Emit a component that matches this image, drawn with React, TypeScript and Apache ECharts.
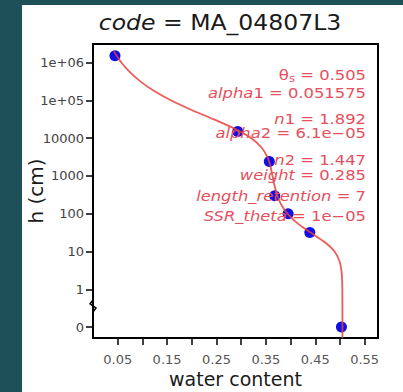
import React, { useEffect, useRef } from "react";
import * as echarts from "echarts";

// ---- data ----
const plotCode = "MA_04807L3";
// observed points: water content vs suction h (cm)
const pointTheta = [0.0445, 0.293, 0.357, 0.368, 0.395, 0.439, 0.503];
const pointH = [1500000, 15000, 2400, 300, 100, 32, 0];
// fitted curve: log10(h) and water content
const curveLogH = [6.3, 6.2, 6.0, 5.75, 5.5, 5.25, 5.0, 4.75, 4.5, 4.25, 4.0, 3.75, 3.5, 3.25, 3.0, 2.75, 2.5, 2.25, 2.0, 1.75, 1.5, 1.25, 1.0, 0.75, 0.5, 0.25, 0.0, -1.0, -1.288];
const curveTheta = [0.0422, 0.0468, 0.0574, 0.0742, 0.0958, 0.1232, 0.1575, 0.1985, 0.2435, 0.2864, 0.3199, 0.3411, 0.3529, 0.3593, 0.3634, 0.3674, 0.3726, 0.3807, 0.3936, 0.4135, 0.4406, 0.4688, 0.4889, 0.4989, 0.5029, 0.5043, 0.5048, 0.505, 0.505];
// axes
const xTickValues = [0.05, 0.1, 0.15, 0.2, 0.25, 0.3, 0.35, 0.4, 0.45, 0.5, 0.55];
const xLabelValues = [0.05, 0.15, 0.25, 0.35, 0.45, 0.55];
const yTickValues = [-1, 0, 1, 2, 3, 4, 5, 6];
const yTickLabels = ["0", "1", "10", "100", "1000", "10000", "1e+05", "1e+06"];
const yBreakAt = -0.44;
// fitted parameters (annotation)
const paramNames = ["θs", "alpha1", "n1", "alpha2", "n2", "weight", "length_retention", "SSR_theta"];
const paramValues = ["0.505", "0.051575", "1.892", "6.1e−05", "1.447", "0.285", "7", "1e−05"];

const FONT = "DejaVu Sans";
const RED_TEXT = "#e5505c";

function paramRich(name: string, value: string): string {
  if (name === "θs") return `{n|θ}{sub|s}{n| = ${value}}`;
  const m = name.match(/^(alpha|n)(\d)$/);
  if (m) return `{it|${m[1]}}{n|${m[2]} = ${value}}`;
  return `{it|${name}}{n| = ${value}}`;
}

export default function App() {
  const ref = useRef<HTMLDivElement>(null);
  useEffect(() => {
    document.body.style.margin = "0";
    const chart = echarts.init(ref.current!, null, { renderer: "svg" });
    const toY = (h: number) => (h > 0 ? Math.log10(h) : -1);
    chart.setOption({
      animation: false,
      backgroundColor: "transparent",
      grid: {
        left: 93,
        right: 25,
        top: 44,
        bottom: 54,
        containLabel: false,
        outerBoundsMode: "none",
        show: true,
        borderColor: "#000",
        borderWidth: 2,
      },
      xAxis: {
        type: "value",
        min: 0,
        max: 0.577,
        splitLine: { show: false },
        axisLine: { show: true, onZero: false, lineStyle: { color: "#000", width: 2 } },
        axisTick: {
          show: true,
          customValues: xTickValues,
          length: 7,
          lineStyle: { color: "#000", width: 1.5 },
        },
        axisLabel: {
          customValues: xLabelValues,
          formatter: (v: number) => v.toFixed(2),
          color: "#555",
          fontSize: 13,
          fontFamily: FONT,
          margin: 15,
        },
        name: "water content",
        nameLocation: "middle",
        nameGap: 31,
        nameMoveOverlap: false,
        nameTextStyle: { fontSize: 19, fontFamily: FONT, color: "#1a1a1a" },
      },
      yAxis: {
        type: "value",
        min: -1.288,
        max: 6.488,
        splitLine: { show: false },
        axisLine: { show: true, onZero: false, lineStyle: { color: "#000", width: 2 } },
        axisTick: {
          show: true,
          customValues: yTickValues,
          length: 7,
          lineStyle: { color: "#000", width: 1.5 },
        },
        axisLabel: {
          customValues: yTickValues,
          formatter: (v: number) => {
            const i = yTickValues.findIndex((t) => Math.abs(t - v) < 1e-6);
            return i >= 0 ? yTickLabels[i] : "";
          },
          color: "#444",
          fontSize: 13,
          fontFamily: FONT,
          margin: 9,
        },
        name: "h (cm)",
        nameLocation: "middle",
        nameGap: 47,
        nameMoveOverlap: false,
        nameTextStyle: { fontSize: 20, fontFamily: FONT, color: "#1a1a1a" },
      },
      series: [
        {
          type: "scatter",
          data: pointTheta.map((t, i) => [t, toY(pointH[i])]),
          symbol: "circle",
          symbolSize: 11,
          itemStyle: { color: "#1010e6", opacity: 1 },
          z: 2,
        },
        {
          type: "line",
          data: curveTheta.map((t, i) => [t, curveLogH[i]]),
          showSymbol: false,
          smooth: 0.3,
          lineStyle: { color: "#e8403a", width: 1.8, opacity: 0.85 },
          z: 3,
        },
      ],
    });

    const p = chart.convertToPixel({ gridIndex: 0 }, [0, yBreakAt]) as number[];
    const cx = p[0];
    const cy = p[1];
    const lineYs = [75, 93, 119, 133, 160, 175, 196, 216];
    const richStyles = {
      n: { fontSize: 14, fontFamily: FONT, fill: RED_TEXT },
      it: { fontSize: 14, fontFamily: FONT, fontStyle: "italic", fill: RED_TEXT },
      sub: { fontSize: 10, fontFamily: FONT, fill: RED_TEXT, padding: [8, 0, 0, 0] },
    };
    const graphics: any[] = [
      {
        id: "title",
        type: "text",
        x: 220,
        y: 22,
        scaleX: 1.07,
        style: {
          text: `{it|code}{n| = ${plotCode}}`,
          align: "center",
          verticalAlign: "middle",
          fontSize: 22,
          fontFamily: FONT,
          fill: "#1a1a1a",
          rich: {
            n: { fontSize: 22, fontFamily: FONT, fill: "#1a1a1a" },
            it: { fontSize: 22, fontFamily: FONT, fontStyle: "italic", fill: "#1a1a1a" },
          },
        },
      },
      {
        id: "brk",
        type: "polyline",
        shape: {
          points: [
            [cx, cy - 6],
            [cx - 3, cy - 2],
            [cx + 3, cy + 2],
            [cx, cy + 6],
          ],
        },
        style: { stroke: "#000", lineWidth: 1.5, fill: "none" },
        z: 10,
      },
    ];
    paramNames.forEach((name, i) => {
      graphics.push({
        id: "param" + i,
        type: "text",
        x: 366,
        y: lineYs[i],
        scaleX: 1.17,
        z: 5,
        style: {
          text: paramRich(name, paramValues[i]),
          align: "right",
          verticalAlign: "middle",
          fontSize: 14,
          fontFamily: FONT,
          fill: RED_TEXT,
          rich: richStyles,
        },
      });
    });
    chart.setOption({ graphic: graphics });
    return () => chart.dispose();
  }, []);

  return (
    <div style={{ position: "relative", width: 403, height: 392, background: "#1e5059", overflow: "hidden" }}>
      <div style={{ position: "absolute", left: 22, top: 5, width: 381, height: 387, background: "#ffffff" }} />
      <div ref={ref} style={{ position: "absolute", left: 0, top: 0, width: 403, height: 392 }} />
    </div>
  );
}
